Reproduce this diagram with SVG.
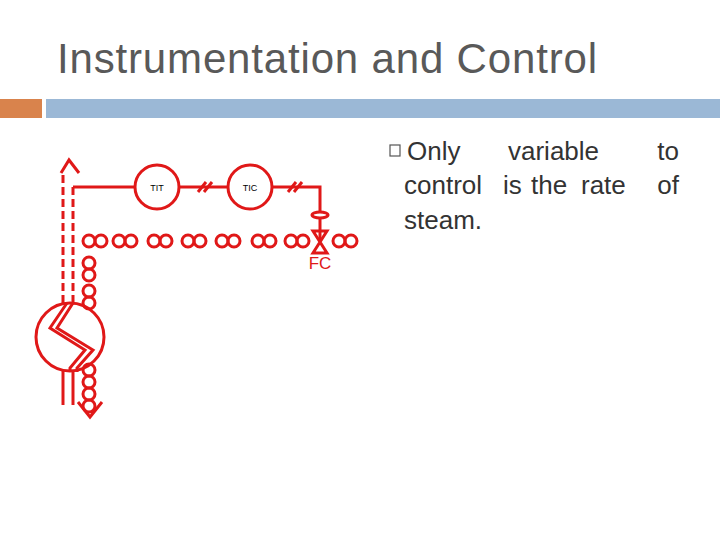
<svg xmlns="http://www.w3.org/2000/svg" width="720" height="540" viewBox="0 0 720 540">
<style>
.r{stroke:#e01818;fill:none;stroke-width:3}
.lp{stroke:#e01818;fill:none;stroke-width:3}
.t{font-family:"Liberation Sans",Arial,sans-serif}
</style>
<rect width="720" height="540" fill="#fff"/>
<text class="t" x="57" y="73" font-size="42" fill="#595959" textLength="540" lengthAdjust="spacing">Instrumentation and Control</text>
<rect x="0" y="99" width="42" height="19" fill="#d9834c"/>
<rect x="46" y="99" width="674" height="19" fill="#9bb8d6"/>
<rect x="390" y="145" width="10" height="11" fill="none" stroke="#555" stroke-width="1.2"/>
<g class="t" font-size="26" fill="#333">
<text x="407" y="160">Only</text>
<text x="508" y="160">variable</text>
<text x="679" y="160" text-anchor="end">to</text>
<text x="404" y="194">control</text>
<text x="503" y="194">is</text>
<text x="531" y="194">the</text>
<text x="581" y="194">rate</text>
<text x="679" y="194" text-anchor="end">of</text>
<text x="404" y="229">steam.</text>
</g>
<g id="connectors">
<line class="r" x1="63" y1="175" x2="63" y2="303" stroke-dasharray="8,4"/>
<line class="r" x1="73" y1="187" x2="73" y2="303" stroke-dasharray="8,4"/>
<polyline class="r" points="61,173 69,160 79,173"/>
<line class="r" x1="73" y1="187" x2="135" y2="187"/>
<line class="r" x1="179" y1="187" x2="228" y2="187"/>
<line class="r" x1="198" y1="192" x2="206" y2="182"/>
<line class="r" x1="204" y1="192" x2="212" y2="182"/>
<polyline class="r" points="272,187 320,187 320,212"/>
<line class="r" x1="288" y1="192" x2="296" y2="182"/>
<line class="r" x1="294" y1="192" x2="302" y2="182"/>
<line class="r" x1="320" y1="218" x2="320" y2="242"/>
<polyline class="r" points="67,303 50,328 85,350 70,368 70,372"/>
<polyline class="r" points="73,303 57,328 93,350 77,368 77,372"/>
<line class="r" x1="63" y1="370" x2="63" y2="405"/>
<line class="r" x1="73" y1="370" x2="73" y2="405"/>
<polyline class="r" points="78,402 90,417 102,402"/>
</g>
<g id="loops" class="lp">
<circle cx="89" cy="241" r="6"/><circle cx="101" cy="241" r="6"/>
<circle cx="119" cy="241" r="6"/><circle cx="131" cy="241" r="6"/>
<circle cx="154" cy="241" r="6"/><circle cx="166" cy="241" r="6"/>
<circle cx="188" cy="241" r="6"/><circle cx="200" cy="241" r="6"/>
<circle cx="222" cy="241" r="6"/><circle cx="234" cy="241" r="6"/>
<circle cx="258" cy="241" r="6"/><circle cx="270" cy="241" r="6"/>
<circle cx="291" cy="241" r="6"/><circle cx="303" cy="241" r="6"/>
<circle cx="339" cy="241" r="6"/><circle cx="351" cy="241" r="6"/>
<circle cx="89" cy="263" r="6"/><circle cx="89" cy="275" r="6"/>
<circle cx="89" cy="291" r="6"/><circle cx="89" cy="303" r="6"/>
<circle cx="89" cy="370" r="6"/><circle cx="89" cy="382" r="6"/>
<circle cx="89" cy="394" r="6"/><circle cx="89" cy="406" r="6"/>
</g>
<g id="TIT"><circle class="r" cx="157" cy="187" r="22"/><text class="t" x="157" y="191" font-size="9" text-anchor="middle">TIT</text></g>
<g id="TIC"><circle class="r" cx="250" cy="187" r="22"/><text class="t" x="250" y="191" font-size="9" text-anchor="middle">TIC</text></g>
<g id="actuator"><ellipse class="r" cx="320" cy="215" rx="8" ry="3"/></g>
<g id="valve"><polygon class="r" points="313,231 327,231 313,253 327,253" fill="none"/><text class="t" x="320" y="269" font-size="17" fill="#e01818" text-anchor="middle">FC</text></g>
<g id="exchanger"><circle class="r" cx="70" cy="337" r="34"/></g>
</svg>
